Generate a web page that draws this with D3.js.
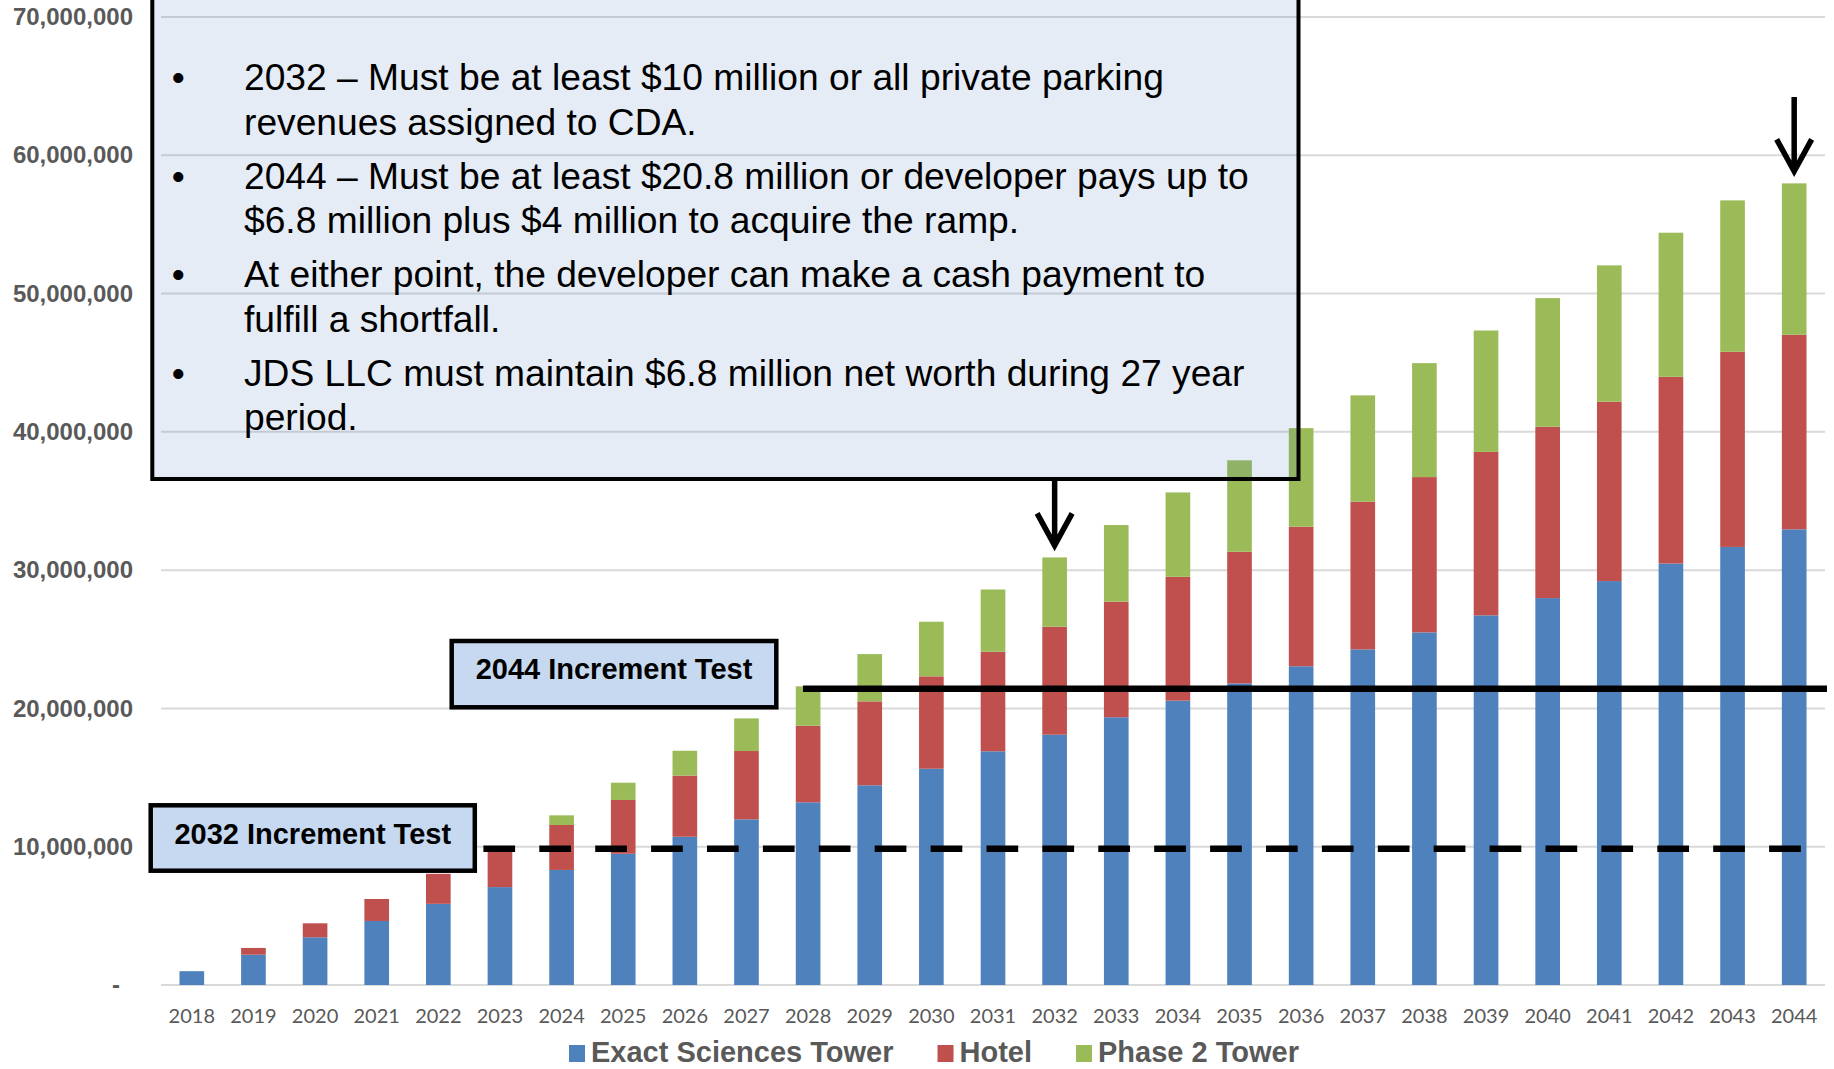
<!DOCTYPE html>
<html>
<head>
<meta charset="utf-8">
<script src="https://cdn.jsdelivr.net/npm/d3@7"></script>
<style>
  body { margin: 0; background: #fff; }
  svg { display: block; }
</style>
</head>
<body>
<div class="chart"></div>
<script>
// categories
const years = [2018, 2019, 2020, 2021, 2022, 2023, 2024, 2025, 2026, 2027, 2028, 2029, 2030,
    2031, 2032, 2033, 2034, 2035, 2036, 2037, 2038, 2039, 2040, 2041, 2042, 2043, 2044];

// series values
const exactSciences = [1.00e6, 2.19e6, 3.45e6, 4.63e6, 5.87e6, 7.08e6, 8.32e6, 9.49e6, 10.72e6,
    11.98e6, 13.21e6, 14.44e6, 15.64e6, 16.90e6, 18.10e6, 19.36e6, 20.56e6, 21.81e6, 23.05e6,
    24.27e6, 25.50e6, 26.73e6, 27.98e6, 29.21e6, 30.48e6, 31.68e6, 32.95e6];
const hotel = [0, 0.49e6, 1.01e6, 1.59e6, 2.17e6, 2.68e6, 3.25e6, 3.89e6, 4.42e6,
    4.94e6, 5.54e6, 6.07e6, 6.68e6, 7.20e6, 7.81e6, 8.36e6, 8.96e6, 9.52e6, 10.09e6,
    10.68e6, 11.23e6, 11.82e6, 12.39e6, 12.97e6, 13.50e6, 14.11e6, 14.07e6];
const phase2 = [0, 0, 0, 0, 0, 0, 0.70e6, 1.25e6, 1.80e6,
    2.36e6, 2.85e6, 3.42e6, 3.95e6, 4.50e6, 5.01e6, 5.54e6, 6.10e6, 6.61e6, 7.13e6,
    7.69e6, 8.24e6, 8.78e6, 9.30e6, 9.86e6, 10.42e6, 10.95e6, 10.95e6];

const seriesNames = ["Exact Sciences Tower", "Hotel", "Phase 2 Tower"];
const seriesColors = ["#4F81BD", "#C0504D", "#9BBB59"];

const yTicks = [0, 10e6, 20e6, 30e6, 40e6, 50e6, 60e6, 70e6];

// increment test levels
const test2032 = 9.86e6;
const test2044 = 21.43e6;

// note box paragraphs
const notes = [
    ["2032 \u2013 Must be at least $10 million or all private parking", "revenues assigned to CDA."],
    ["2044 \u2013 Must be at least $20.8 million or developer pays up to", "$6.8 million plus $4 million to acquire the ramp."],
    ["At either point, the developer can make a cash payment to", "fulfill a shortfall."],
    ["JDS LLC must maintain $6.8 million net worth during 27 year", "period."]
];

const arial = "'Liberation Sans', Arial, sans-serif";

let width = 1834, height = 1069;

let svg = d3.select(".chart")
    .append("svg")
    .attr("width", width)
    .attr("height", height);

let x = d3.scaleBand()
    .domain(years)
    .range([161, 1825])
    .paddingInner(0.6)
    .paddingOuter(0.3);

let y = d3.scaleLinear()
    .domain([0, 70e6])
    .range([985, 17]);

// gridlines
svg.append("g")
    .selectAll("line")
    .data(yTicks)
    .join("line")
    .attr("x1", 161)
    .attr("x2", 1825)
    .attr("y1", d => y(d))
    .attr("y2", d => y(d))
    .attr("stroke", "#D9D9D9")
    .attr("stroke-width", 2);

// Y axis labels
let yAxis = svg.append("g")
    .attr("transform", "translate(133,0)")
    .call(d3.axisLeft(y).tickValues(yTicks).tickSize(0).tickPadding(0)
        .tickFormat(d => d === 0 ? "-" : d3.format(",")(d)));
yAxis.select(".domain").remove();
yAxis.attr("font-family", arial).attr("font-size", 24).attr("font-weight", "bold");
yAxis.selectAll("text").attr("fill", "#595959");
yAxis.selectAll(".tick").filter(d => d === 0).select("text").attr("x", -13);

// X axis labels
let xAxis = svg.append("g")
    .attr("transform", "translate(0,985)")
    .call(d3.axisBottom(x).tickSize(0).tickPadding(24));
xAxis.select(".domain").remove();
xAxis.attr("font-family", "Lato, 'Open Sans', sans-serif").attr("font-size", 20);
xAxis.selectAll("text").attr("fill", "#595959");

// stacked bars
let table = years.map((yr, i) => ({
    year: yr,
    "Exact Sciences Tower": exactSciences[i],
    "Hotel": hotel[i],
    "Phase 2 Tower": phase2[i]
}));
let stacked = d3.stack().keys(seriesNames)(table);

svg.append("g")
    .selectAll("g")
    .data(stacked)
    .join("g")
    .attr("fill", (d, i) => seriesColors[i])
    .selectAll("rect")
    .data(d => d.filter(v => v[1] > v[0]))
    .join("rect")
    .attr("x", d => x(d.data.year))
    .attr("y", d => y(d[1]))
    .attr("width", x.bandwidth())
    .attr("height", d => y(d[0]) - y(d[1]));

// 2032 test: dashed line
svg.append("line")
    .attr("x1", 483.4)
    .attr("x2", 1801)
    .attr("y1", y(test2032))
    .attr("y2", y(test2032))
    .attr("stroke", "black")
    .attr("stroke-width", 6.5)
    .attr("stroke-dasharray", "31.7,24.2");

// 2044 test: solid line
svg.append("line")
    .attr("x1", 803)
    .attr("x2", 1827)
    .attr("y1", y(test2044))
    .attr("y2", y(test2044))
    .attr("stroke", "black")
    .attr("stroke-width", 6.5);

// label boxes
let labelBoxes = [
    {text: "2044 Increment Test", x: 451.7, y: 641, w: 324.6, h: 66.3},
    {text: "2032 Increment Test", x: 150.7, y: 805.3, w: 324.1, h: 65.4}
];
let lb = svg.append("g").selectAll("g").data(labelBoxes).join("g");
lb.append("rect")
    .attr("x", d => d.x)
    .attr("y", d => d.y)
    .attr("width", d => d.w)
    .attr("height", d => d.h)
    .attr("fill", "#C6D9F1")
    .attr("stroke", "black")
    .attr("stroke-width", 4.5);
lb.append("text")
    .attr("x", d => d.x + d.w / 2)
    .attr("y", d => d.y + 38.3)
    .attr("text-anchor", "middle")
    .attr("font-family", arial)
    .attr("font-weight", "bold")
    .attr("font-size", 29)
    .attr("fill", "black")
    .text(d => d.text);

// note box, half see-through
svg.append("rect")
    .attr("x", 152.3)
    .attr("y", -20)
    .attr("width", 1146.2)
    .attr("height", 499)
    .attr("fill", "#4F81BD")
    .attr("fill-opacity", 0.15)
    .attr("stroke", "black")
    .attr("stroke-width", 4);

let noteG = svg.append("g")
    .attr("font-family", arial)
    .attr("font-size", 37.2)
    .attr("fill", "black");
let base = 90;
notes.forEach(par => {
    noteG.append("text")
        .attr("x", 178.3)
        .attr("y", base)
        .attr("text-anchor", "middle")
        .text("\u2022");
    par.forEach((line, j) => {
        noteG.append("text")
            .attr("x", 244)
            .attr("y", base + j * 44.5)
            .text(line);
    });
    base += 44.5 + 54;
});

// arrows pointing at the test years
let arrows = [
    {year: 2032, top: 481},
    {year: 2044, top: 97}
];
let totals = years.map((yr, i) => exactSciences[i] + hotel[i] + phase2[i]);
svg.append("g")
    .selectAll("path")
    .data(arrows)
    .join("path")
    .attr("d", d => {
        let cx = x(d.year) + x.bandwidth() / 2;
        let tip = y(totals[years.indexOf(d.year)]) - 12;
        return "M" + cx + "," + d.top + "V" + (tip - 2) +
            "M" + (cx - 17.5) + "," + (tip - 32) + "L" + cx + "," + tip + "L" + (cx + 17.5) + "," + (tip - 32);
    })
    .attr("fill", "none")
    .attr("stroke", "black")
    .attr("stroke-width", 5.5)
    .attr("stroke-linejoin", "miter");

// legend
let legend = svg.append("g")
    .attr("font-family", arial)
    .attr("font-weight", "bold")
    .attr("font-size", 29);
let lx = 569;
seriesNames.forEach((name, i) => {
    legend.append("rect")
        .attr("x", lx)
        .attr("y", 1045)
        .attr("width", 16)
        .attr("height", 17)
        .attr("fill", seriesColors[i]);
    let t = legend.append("text")
        .attr("x", lx + 22)
        .attr("y", 1062)
        .attr("fill", "#595959")
        .text(name);
    lx += 22 + t.node().getComputedTextLength() + 44;
});
</script>
</body>
</html>
